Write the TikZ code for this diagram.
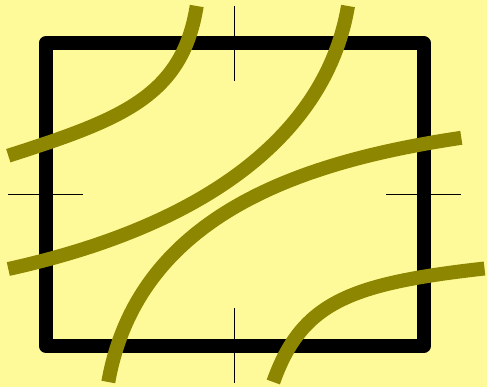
\documentclass[tikz,border=0pt]{standalone}
\begin{document}
\begin{tikzpicture}[x=1pt,y=-1pt,
  frame/.style={line width=14pt,line join=round,draw=black},
  curve/.style={line width=14pt,draw=olive},
  tick/.style={line width=1pt,draw=black}]
\fill[yellow!40] (0,0) rectangle (487,387);
\useasboundingbox (0,0) rectangle (487,387);
\draw[frame] (45.5,43.5) rectangle (424,345.7);
% ticks
\coordinate (t1a) at (234.5,6);   \coordinate (t1b) at (234.5,81);
\coordinate (t2a) at (234.5,308); \coordinate (t2b) at (234.5,383);
\coordinate (t3a) at (8,194.3);   \coordinate (t3b) at (83,194.3);
\coordinate (t4a) at (386,194.3); \coordinate (t4b) at (461.3,194.3);
\draw[tick] (t1a) -- (t1b);
\draw[tick] (t2a) -- (t2b);
\draw[tick] (t3a) -- (t3b);
\draw[tick] (t4a) -- (t4b);
% curves
\coordinate (c1a) at (8.3,155.7); \coordinate (c1b) at (196.7,6);
\coordinate (c2a) at (8.3,269);   \coordinate (c2b) at (348,6);
\coordinate (c3a) at (108.3,382); \coordinate (c3b) at (461.3,137.8);
\coordinate (c4a) at (273.3,382); \coordinate (c4b) at (484.5,268.5);
\draw[curve] (c1a) .. controls (122.6,119.1) and (182.3,96) .. (c1b);
\draw[curve] (c2a) .. controls (203.6,226) and (325.9,136) .. (c2b);
\draw[curve] (c3a) .. controls (139,209.8) and (312.9,160) .. (c3b);
\draw[curve] (c4a) .. controls (301.8,301.9) and (350.3,283.6) .. (c4b);
\end{tikzpicture}
\end{document}
